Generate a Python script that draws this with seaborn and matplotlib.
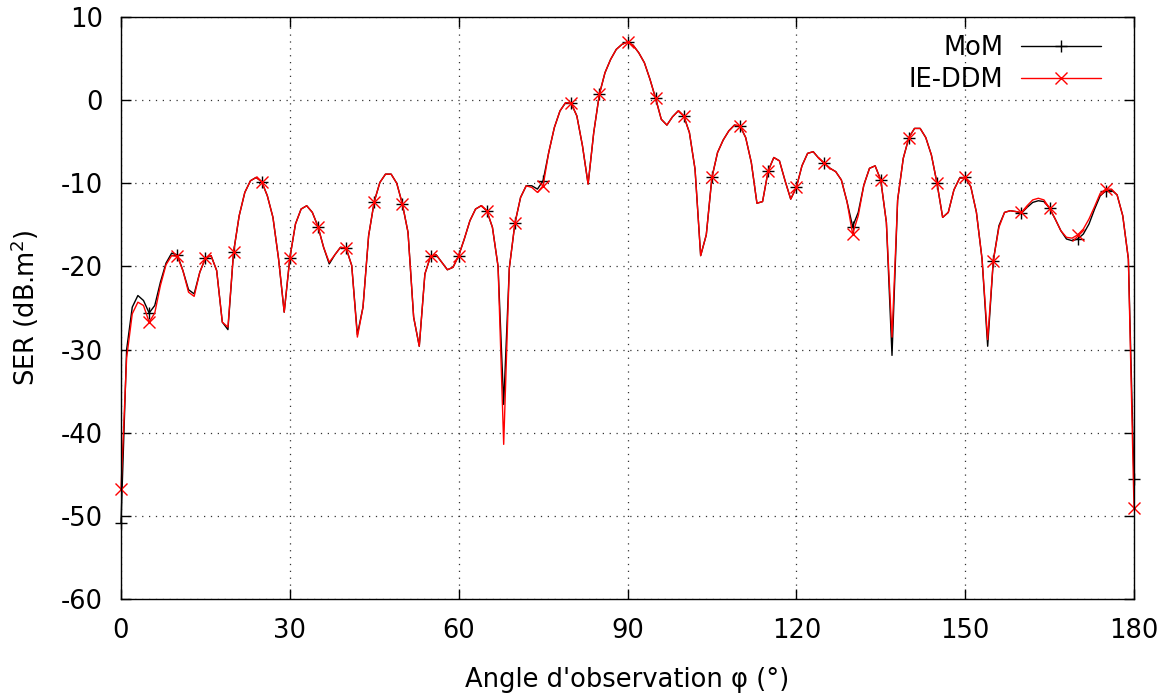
import numpy as np
import pandas as pd
import matplotlib
matplotlib.use("Agg")
import matplotlib.pyplot as plt
import seaborn as sns

angles = list(range(0, 181))

mom = [
    -50.9, -30.0, -24.9, -23.5, -24.1, -25.6, -24.7, -21.9, -19.6, -18.4,
    -18.6, -20.5, -22.8, -23.3, -20.7, -19.0, -18.7, -20.5, -26.7, -27.6,
    -18.3, -13.9, -11.1, -9.7, -9.3, -9.8, -11.5, -14.1, -19.1, -25.5,
    -19.0, -14.9, -13.1, -12.7, -13.5, -15.2, -17.7, -19.7, -18.6, -17.7,
    -17.8, -19.9, -28.2, -24.9, -16.3, -12.2, -9.9, -8.9, -8.9, -10.0,
    -12.5, -15.9, -26.1, -29.6, -20.9, -18.8, -18.6, -19.5, -20.4, -20.1,
    -18.7, -16.7, -14.5, -13.1, -12.7, -13.3, -15.3, -20.0, -36.6, -20.2,
    -14.8, -11.7, -10.3, -10.3, -10.7, -9.7, -6.3, -3.3, -1.3, -0.3,
    -0.4, -1.9, -5.5, -10.1, -3.9, 0.7, 3.3, 4.9, 6.1, 6.7,
    7.0, 6.6, 5.7, 4.5, 2.5, 0.2, -2.3, -3.0, -2.0, -1.3,
    -1.9, -3.9, -8.3, -18.7, -16.2, -9.3, -6.3, -4.8, -3.7, -3.0,
    -3.1, -4.5, -7.5, -12.4, -12.2, -8.5, -6.9, -7.3, -9.7, -11.9,
    -10.5, -7.9, -6.4, -6.2, -7.0, -7.6, -8.2, -8.6, -9.6, -12.2,
    -15.2, -13.5, -10.2, -8.2, -7.9, -9.6, -14.7, -30.7, -12.0, -7.0,
    -4.5, -3.4, -3.4, -4.5, -6.6, -10.0, -14.1, -13.5, -10.8, -9.4,
    -9.3, -10.4, -13.5, -19.1, -29.6, -19.3, -15.1, -13.5, -13.3, -13.4,
    -13.6, -12.9, -12.3, -12.1, -12.2, -13.0, -14.3, -15.7, -16.7, -16.9,
    -16.7, -16.1, -14.9, -13.1, -11.5, -10.9, -10.8, -11.4, -13.9, -19.1,
    -45.6,
]

ieddm = [
    -46.8, -31.0, -25.7, -24.3, -24.7, -26.7, -25.6, -22.3, -19.8, -18.7,
    -18.8, -20.5, -23.1, -23.6, -20.7, -19.0, -18.7, -20.5, -26.7, -27.3,
    -18.3, -13.9, -11.1, -9.7, -9.3, -9.8, -11.5, -14.1, -19.1, -25.5,
    -19.0, -14.9, -13.1, -12.7, -13.5, -15.2, -17.7, -19.5, -18.6, -17.7,
    -17.8, -19.9, -28.5, -24.9, -16.3, -12.2, -9.9, -8.9, -8.9, -10.0,
    -12.5, -15.9, -26.1, -29.6, -20.9, -18.8, -18.6, -19.5, -20.4, -20.1,
    -18.7, -16.7, -14.5, -13.1, -12.7, -13.3, -15.3, -20.0, -41.4, -20.2,
    -14.8, -11.7, -10.3, -10.5, -11.1, -10.3, -6.3, -3.3, -1.3, -0.3,
    -0.4, -1.9, -5.5, -10.1, -3.9, 0.7, 3.3, 4.9, 6.1, 6.7,
    7.0, 6.6, 5.7, 4.5, 2.5, 0.2, -2.3, -3.0, -2.0, -1.3,
    -1.9, -3.9, -8.3, -18.7, -16.2, -9.3, -6.3, -4.8, -3.7, -3.0,
    -3.1, -4.5, -7.5, -12.4, -12.2, -8.5, -6.9, -7.3, -9.7, -11.9,
    -10.5, -7.9, -6.4, -6.2, -7.0, -7.6, -8.2, -8.6, -9.6, -12.2,
    -16.1, -13.9, -10.2, -8.2, -7.9, -9.6, -14.7, -28.5, -12.0, -7.0,
    -4.5, -3.4, -3.4, -4.5, -6.6, -10.0, -14.1, -13.5, -10.8, -9.4,
    -9.3, -10.4, -13.5, -19.1, -28.8, -19.3, -15.3, -13.5, -13.3, -13.4,
    -13.5, -12.7, -12.0, -11.8, -12.0, -13.0, -14.3, -15.7, -16.5, -16.6,
    -16.2, -15.5, -14.3, -12.8, -11.2, -10.7, -10.7, -11.4, -13.9, -19.1,
    -49.0,
]

x_ticks = [0, 30, 60, 90, 120, 150, 180]
y_ticks = [-60, -50, -40, -30, -20, -10, 0, 10]
series_names = ["MoM", "IE-DDM"]

sns.set_theme(style="white")
plt.rcParams["font.family"] = ["DejaVu Sans"]
plt.rcParams["mathtext.fontset"] = "dejavusans"
plt.rcParams["text.color"] = "black"
plt.rcParams["axes.labelcolor"] = "black"

FS = 18.5

fig = plt.figure(figsize=(11.71, 6.95), dpi=100)
ax = fig.add_axes([121 / 1171, 1 - 599 / 695, (1134 - 121) / 1171, (599 - 17) / 695])

sns.lineplot(x=angles, y=mom, ax=ax, color="black", lw=1.0, marker="+",
             markevery=5, ms=8, mew=1.0, mec="black", mfc="black",
             label=series_names[0], sort=False, clip_on=False)
sns.lineplot(x=angles, y=ieddm, ax=ax, color="#ff0000", lw=1.0, marker="x",
             markevery=5, ms=8, mew=1.0, mec="#ff0000", mfc="#ff0000",
             label=series_names[1], sort=False, clip_on=False)

ax.set_xlim(0, 180)
ax.set_ylim(-60, 10)
ax.set_xticks(x_ticks)
ax.set_yticks(y_ticks)
ax.set_xticklabels([str(t) for t in x_ticks])
ax.set_yticklabels([str(t) for t in y_ticks])

ax.grid(True, color="#333333", lw=0.9, linestyle=(0, (1, 4.5)))
for s in ax.spines.values():
    s.set_visible(True)
    s.set_color("black")
    s.set_linewidth(1.0)

ax.tick_params(direction="in", length=7, width=1.0, top=True, right=True,
               bottom=True, left=True, labelsize=FS, colors="black")
ax.tick_params(axis="x", pad=14)
ax.tick_params(axis="y", pad=13)
ax.set_xlabel("Angle d'observation φ (°)", fontsize=FS, color="black", labelpad=16)
ax.set_ylabel("SER (dB.m$^{2}$)", fontsize=FS, color="black", labelpad=14)

leg = ax.legend(loc="upper right", bbox_to_anchor=(1101 / 1171, 1 - 35 / 695),
                bbox_transform=fig.transFigure, frameon=False, markerfirst=False,
                fontsize=FS, handlelength=3.1, handletextpad=0.7,
                labelspacing=0.22, borderpad=0, borderaxespad=0)
for t in leg.get_texts():
    t.set_color("black")

fig.savefig("out.png", dpi=100)
